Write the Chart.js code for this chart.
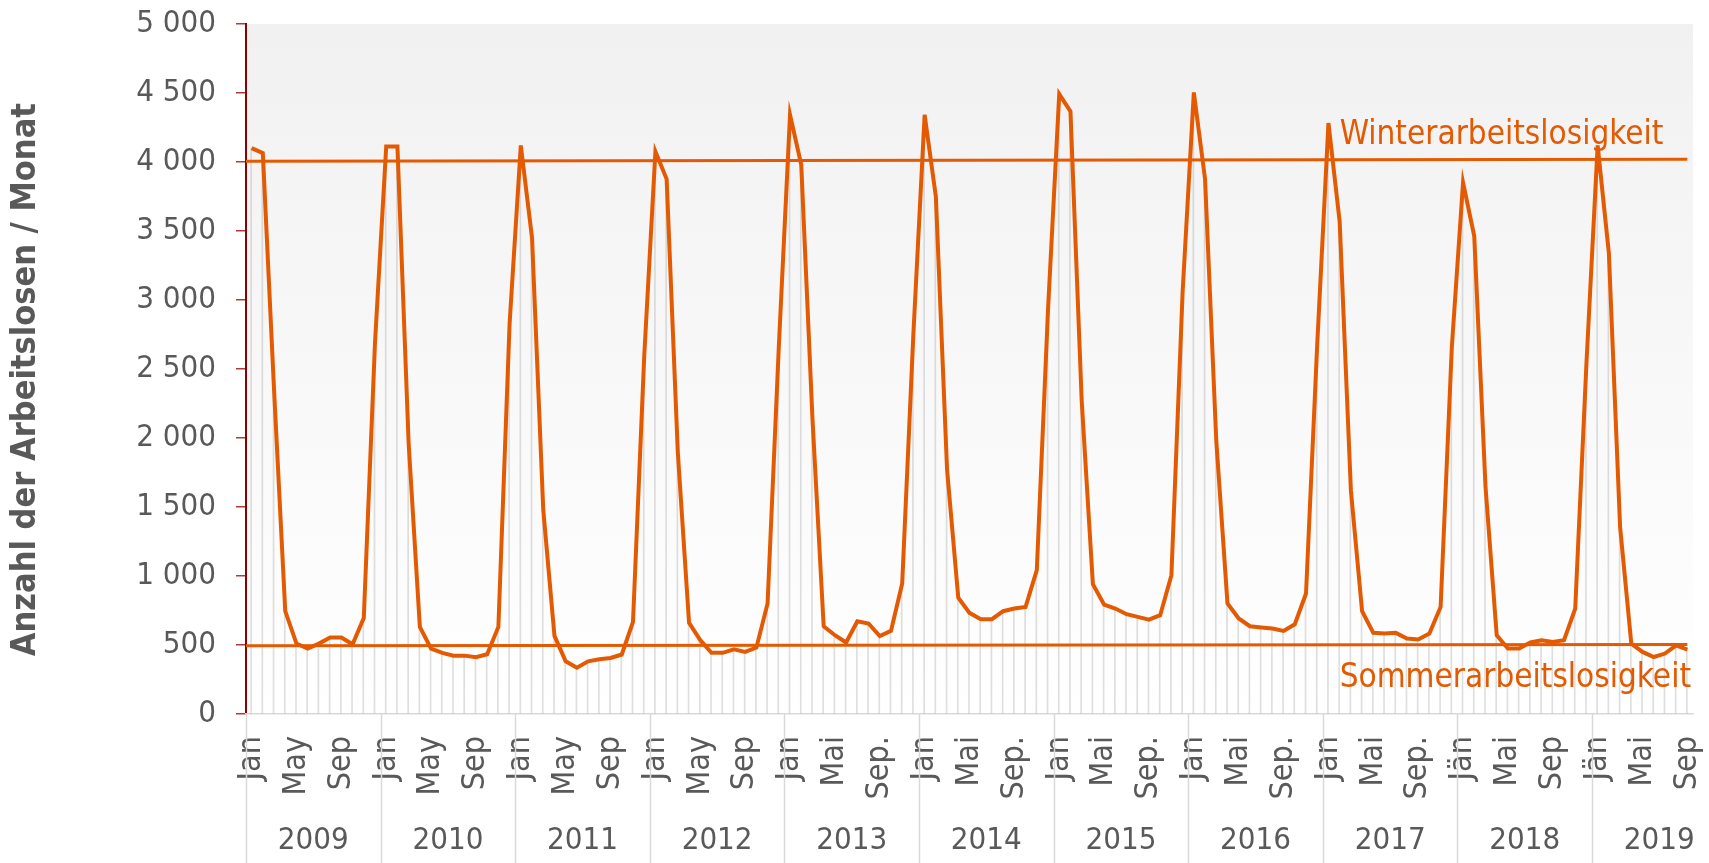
<!DOCTYPE html>
<html><head><meta charset="utf-8">
<script src="https://cdn.jsdelivr.net/npm/chart.js@4.4.1/dist/chart.umd.min.js"></script>
<style>html,body{margin:0;padding:0;background:#fff}#wrap{width:1709px;height:863px;position:relative}</style>
</head><body><div id="wrap"><canvas id="c"></canvas></div>
<script>
// ---- data ----
const years = ['2009','2010','2011','2012','2013','2014','2015','2016','2017','2018','2019'];
const yearTickLabels = [
  ['Jan','May','Sep'], ['Jan','May','Sep'], ['Jan','May','Sep'], ['Jan','May','Sep'],
  ['Jan','Mai','Sep.'], ['Jan','Mai','Sep.'], ['Jan','Mai','Sep.'], ['Jan','Mai','Sep.'], ['Jan','Mai','Sep.'],
  ['Jän','Mai','Sep'], ['Jän','Mai','Sep']
];
const v2009 = [4100, 4064, 2350, 745, 510, 474, 510, 554, 554, 505, 696, 2690];
const v2010 = [4112, 4112, 1960, 631, 474, 443, 423, 423, 411, 433, 631, 2830];
const v2011 = [4120, 3450, 1480, 566, 382, 336, 382, 397, 406, 431, 667, 2590];
const v2012 = [4076, 3876, 1890, 660, 535, 443, 443, 469, 450, 481, 801, 2660];
const v2013 = [4342, 3980, 2140, 636, 571, 518, 672, 656, 564, 602, 946, 2760];
const v2014 = [4342, 3750, 1770, 842, 733, 687, 687, 745, 764, 776, 1042, 2930];
const v2015 = [4492, 4366, 2275, 941, 793, 764, 723, 704, 684, 716, 1006, 3060];
const v2016 = [4504, 3876, 1980, 801, 692, 636, 627, 619, 602, 650, 873, 2680];
const v2017 = [4282, 3568, 1620, 745, 588, 583, 588, 547, 540, 583, 776, 2660];
const v2018 = [3851, 3462, 1650, 571, 474, 474, 518, 535, 522, 535, 764, 2540];
const v2019 = [4120, 3339, 1356, 510, 450, 413, 438, 498, 467];
const winterLevel = [4005, 4020];   // start / end of the reference line
const summerLevel = [495, 503];
const yTicks = [0, 500, 1000, 1500, 2000, 2500, 3000, 3500, 4000, 4500, 5000];

// ---- build ----
const perYear = [v2009,v2010,v2011,v2012,v2013,v2014,v2015,v2016,v2017,v2018,v2019];
const labels = [], values = [], yearStarts = [];
perYear.forEach((arr, yi) => {
  yearStarts.push(labels.length);
  arr.forEach((v, m) => {
    labels.push(m % 4 === 0 ? yearTickLabels[yi][m / 4] : '');
    values.push(v);
  });
});
const lastIdx = values.length - 1;
const yearCenters = yearStarts.map(s => s + 5.5);

const ORANGE = '#e35a02';
const FONT = "'DejaVu Sans Condensed', 'DejaVu Sans', sans-serif";
const GRAY = '#595959';

const bgPlugin = {
  id: 'bg',
  beforeDraw(chart) {
    const {ctx, chartArea: a} = chart;
    const g = ctx.createLinearGradient(0, a.top, 0, a.bottom);
    g.addColorStop(0, '#f1f1f1');
    g.addColorStop(1, '#ffffff');
    ctx.save(); ctx.fillStyle = g;
    ctx.fillRect(a.left, a.top, a.right - a.left, a.bottom - a.top);
    ctx.restore();
  }
};
const sepPlugin = {
  id: 'sep',
  afterDraw(chart) {
    const {ctx, chartArea: a} = chart;
    const xs = chart.scales.x2;
    ctx.save(); ctx.strokeStyle = '#d9d9d9'; ctx.lineWidth = 1.5;
    yearStarts.forEach(s => {
      const px = Math.round(xs.getPixelForValue(s - 0.5)) + 0.5;
      ctx.beginPath(); ctx.moveTo(px, a.bottom); ctx.lineTo(px, chart.height); ctx.stroke();
    });
    ctx.restore();
  }
};
const textPlugin = {
  id: 'txt',
  afterDatasetsDraw(chart) {
    const {ctx} = chart; const xs = chart.scales.x2, ys = chart.scales.y;
    ctx.save(); ctx.fillStyle = ORANGE; ctx.font = '33px ' + FONT;
    ctx.textAlign = 'left'; ctx.textBaseline = 'middle';
    ctx.fillText('Winterarbeitslosigkeit', xs.getPixelForValue(97), ys.getPixelForValue(4000) - 27);
    ctx.fillText('Sommerarbeitslosigkeit', xs.getPixelForValue(97), ys.getPixelForValue(500) + 33);
    ctx.restore();
  }
};

new Chart(document.getElementById('c'), {
  type: 'line',
  data: {
    labels,
    datasets: [
      { label: 'Arbeitslose', data: values, borderColor: ORANGE, borderWidth: 4, pointRadius: 0, tension: 0, order: 0, xAxisID: 'x' },
      { label: 'Winter', data: [{x: -0.5, y: winterLevel[0]}, {x: lastIdx, y: winterLevel[1]}], xAxisID: 'x2', borderColor: ORANGE, borderWidth: 3, pointRadius: 0, order: 1 },
      { label: 'Sommer', data: [{x: -0.5, y: summerLevel[0]}, {x: lastIdx, y: summerLevel[1]}], xAxisID: 'x2', borderColor: ORANGE, borderWidth: 3, pointRadius: 0, order: 1 },
      { type: 'bar', label: 'drop', data: values, xAxisID: 'x', barThickness: 1, backgroundColor: 'rgba(150,150,150,0.3)', order: 10 }
    ]
  },
  options: {
    responsive: true, maintainAspectRatio: false, animation: false,
    layout: { padding: { left: 0, right: 16, top: 24, bottom: 0 } },
    plugins: { legend: { display: false }, tooltip: { enabled: false } },
    scales: {
      y: {
        min: 0, max: 5000,
        afterBuildTicks(s) { s.ticks = yTicks.map(v => ({value: v})); },
        afterFit(s) { s.width = 246; s.paddingTop = 0; s.paddingBottom = 0; },
        ticks: {
          color: GRAY, font: { family: FONT, size: 31 }, padding: 20,
          callback: v => v >= 1000 ? Math.floor(v / 1000) + '\u00a0' + String(v % 1000).padStart(3, '0') : String(v)
        },
        grid: { drawOnChartArea: false, tickLength: 10, color: '#b03a3a', lineWidth: 1.5 },
        border: { color: '#8b0000', width: 2 },
        title: { display: true, text: 'Anzahl der Arbeitslosen / Monat\u00a0\u00a0', color: GRAY, font: { family: FONT, size: 34, weight: 'bold' }, padding: { top: 6, bottom: 0 } }
      },
      x: {
        type: 'category', offset: true, weight: 0,
        afterFit(s) { s.height = 100; s.paddingLeft = 0; s.paddingRight = 0; },
        ticks: { autoSkip: false, minRotation: 90, maxRotation: 90, color: GRAY, font: { family: FONT, size: 32 }, padding: 22 },
        grid: { display: false, drawTicks: false },
        border: { display: true, color: '#d9d9d9', width: 1.5 }
      },
      x2: {
        type: 'linear', position: 'bottom', weight: 1, min: -0.5, max: lastIdx + 0.5,
        afterBuildTicks(s) { s.ticks = yearCenters.map(v => ({value: v})); },
        afterFit(s) { s.height = 49; s.paddingLeft = 0; s.paddingRight = 0; },
        ticks: { autoSkip: false, maxRotation: 0, color: GRAY, font: { family: FONT, size: 31 }, padding: 8,
          callback: (v, i) => years[i] },
        grid: { display: false, drawTicks: false },
        border: { display: false }
      }
    }
  },
  plugins: [bgPlugin, sepPlugin, textPlugin]
});
</script></body></html>
